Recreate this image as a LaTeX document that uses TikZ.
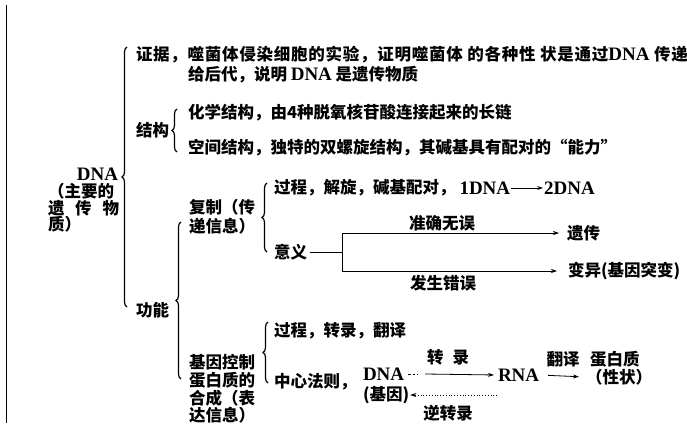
\documentclass[tikz,border=0pt]{standalone}
\usepackage{fontspec}
\setmainfont{Noto Sans CJK SC}
\newfontfamily\serifen{Liberation Serif}
\newcommand\en[1]{{\serifen\bfseries\fontsize{19}{20}\selectfont #1}}
\usetikzlibrary{positioning,decorations.pathreplacing,arrows.meta}

\begin{document}
\begin{tikzpicture}[
    x = 1pt, y = -1pt,
    every node/.style = {inner sep = 0pt, outer sep = 1pt,
                         font = \fontsize{16.5}{18}\selectfont\bfseries},
    lbl/.style = {anchor = west},
    curly/.style = {decorate, decoration = {brace, amplitude = 5pt}, line width = 1.2pt},
    arr/.style = {-{Stealth[length = 6pt, width = 4pt]}, line width = 0.8pt}]

\useasboundingbox (0,0) rectangle (687,433);
\draw[line width = 0.8pt] (6,5) -- (6,423);

% DNA
\node[anchor = east] (dna) at (119,174) {\en{DNA}};
\node[lbl] (dna1) at (47,191) {（主要的};
\node[lbl] (dna2) at (47,208) {\makebox[71pt][s]{遗\hfill 传\hfill 物}};
\node[lbl] (dna3) at (47,224) {质）};
\draw[curly] (127,307) -- (127,47);

% zhengju
\node[lbl] (zj1) at (135,55) {\addfontfeatures{LetterSpace=4.5}证据，噬菌体侵染细胞的实验，证明噬菌体 的各种性 状是通过\en{DNA} 传递};
\node[lbl] (zj2) at (187,75) {给后代，说明 \en{DNA} 是遗传物质};

% jiegou
\node[lbl] (jg) at (135,130) {结构};
\draw[curly] (177,152) -- (177,109);
\node[lbl] (hx) at (187,113) {化学结构，由4种脱氧核苷酸连接起来的长链};
\node[lbl] (kj) at (187,148) {空间结构，独特的双螺旋结构，其碱基具有配对的“能力”};

% gongneng
\node[lbl] (gn) at (135,310) {功能};
\draw[curly] (181,379) -- (181,222);

% fuzhi
\node[lbl] (fz1) at (188,207) {复制（传};
\node[lbl] (fz2) at (188,226) {递信息）};
\draw[curly] (267,252) -- (267,183);
\node[lbl] (gc1) at (273,188) {过程，解旋，碱基配对，};
\node[right = 2pt of gc1] (d1) {\en{1DNA}};
\node[right = 32pt of d1] (d2) {\en{2DNA}};
\draw[arr] (d1) -- (d2);
\node[lbl] (yy) at (273,252) {意义};
\coordinate (fork) at (342,252);
\node[lbl] (yc) at (566,233) {遗传};
\node[lbl] (by) at (567,271) {变异(基因突变)};
\draw[line width = 0.8pt] ([xshift = 2pt]yy.east) -- (fork);
\draw[arr, shorten > = 7pt] (fork) |- (yc.west);
\draw[arr, shorten > = 10pt] (fork) |- (by.west);
\node (zq) at (442,223) {准确无误};
\node (fs) at (443,283) {发生错误};

% jiyin kongzhi
\node[lbl] (jk1) at (188,362) {基因控制};
\node[lbl] (jk2) at (188,380) {蛋白质的};
\node[lbl] (jk3) at (188,398) {合成（表};
\node[lbl] (jk4) at (188,415) {达信息）};
\draw[curly] (268,383) -- (268,322);
\node[lbl] (gc2) at (273,331) {过程，转录，翻译};
\node[lbl] (zx) at (273,382) {中心法则，};
\node[lbl] (dnb) at (362,374) {\en{DNA}};
\node[lbl] (jiyin) at (362,395) {(基因)};
\node[lbl] (rna) at (497,375) {\en{RNA}};
\node (zl) at (448,357) {转\hspace{9pt}录};
\node (nzl) at (448,413) {逆转录};
\draw[dash pattern = on 2.5pt off 2pt, line width = 0.8pt] ([xshift = 3pt]dnb.east) -- ++(10,0);
\draw[arr, shorten > = 3pt] ([xshift = 20pt]dnb.east) -- (rna.west);
\draw[arr, dotted, line width = 1pt] (rna.west |- jiyin) -- (jiyin.east);
\node (fy) at (563,359) {翻译};
\node[lbl] (dbz) at (589,359) {蛋白质};
\node[lbl] (xz) at (585,377) {（性状）};
\draw[arr, shorten < = 8pt, shorten > = 6pt] (rna.east) -- (xz.west);
\end{tikzpicture}
\end{document}
